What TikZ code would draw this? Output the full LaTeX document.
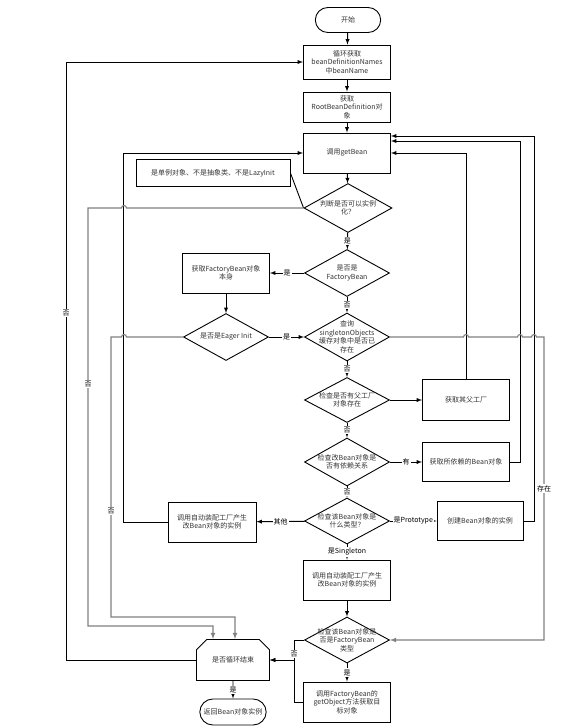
\documentclass[tikz,border=0pt]{standalone}
\usepackage{fontspec}
\setmainfont{Noto Sans CJK SC}
\usepackage{tikz}
\usetikzlibrary{arrows,shapes.geometric,shapes.misc}

\begin{document}
\begin{tikzpicture}[x=1pt, y=-1pt, line width=.9pt, >=latex]
\useasboundingbox (0,0) rectangle (579,728);
\tikzstyle{every node} = [font=\fontsize{7}{8.5}\selectfont, text=black!80, align=center]
\tikzstyle{box} = [draw, rectangle, minimum width=87, minimum height=40, inner sep=1pt]
\tikzstyle{dia} = [draw, diamond, aspect=1.8, minimum width=85, minimum height=47, inner xsep=-12pt, inner ysep=-4pt]
\tikzstyle{term} = [draw, rounded rectangle, minimum width=72, minimum height=25]
\tikzstyle{lab} = [fill=white, inner sep=1pt, text=black]
\tikzstyle{gl} = [black!50, line width=1.1pt]
% main column
\node[term] (st) at (348,20) {开始};
\node[box, minimum height=34] (b1) at (347,62) {循环获取\\beanDefinitionNames\\中beanName};
\node[box, minimum height=30] (b2) at (347,107) {获取\\RootBeanDefinition对\\象};
\node[box] (gb) at (347,153) {调用getBean};
\node[box, minimum width=154, minimum height=27] (nt) at (213,173) {是单例对象、不是抽象类、不是LazyInit};
\node[dia, minimum width=88, minimum height=49] (d1) at (348,208) {判断是否可以实例\\化？};
\node[dia] (d2) at (347,273) {是否是\\FactoryBean};
\node[box] (fb) at (226,273) {获取FactoryBean对象\\本身};
\node[dia] (d3) at (226,337) {是否是Eager Init};
\node[dia, minimum height=48] (d4) at (347,337) {查询\\singletonObjects\\缓存对象中是否已\\存在};
\node[dia, minimum height=45] (d5) at (347,400) {检查是否有父工厂\\对象存在};
\node[box, minimum height=41] (pf) at (466,400) {获取其父工厂};
\node[dia, minimum height=48] (d6) at (347,462) {检查改Bean对象是\\否有依赖关系};
\node[box, minimum height=39] (dep) at (466,462) {获取所依赖的Bean对象};
\node[dia, minimum height=46] (d7) at (347,521) {检查该Bean对象是\\什么类型？};
\node[box, minimum width=88] (aw1) at (212,522) {调用自动装配工厂产生\\改Bean对象的实例};
\node[box, minimum width=86, minimum height=39] (pr) at (480,521) {创建Bean对象的实例};
\node[box] (aw2) at (347,580) {调用自动装配工厂产生\\改Bean对象的实例};
\node[dia, minimum height=46] (d8) at (347,640) {检查该Bean对象是\\否是FactoryBean\\类型};
\node[box] (go) at (347,702) {调用FactoryBean的\\getObject方法获取目\\标对象};
\node[draw, chamfered rectangle, chamfered rectangle corners={north west,north east},
  chamfered rectangle xsep=7pt, minimum width=73, minimum height=41] (lp) at (233,660) {是否循环结束};
\node[term, minimum width=73, minimum height=26] (en) at (233,712) {返回Bean对象实例};
\coordinate (j) at (294,660);
% connectors
\draw[->] (st) -- (b1);
\draw[->] (b1) -- (b2);
\draw[->] (b2) -- (gb);
\draw[->] (gb) -- (d1);
\draw (nt.east) -- (d1.west);
\draw[->] (d1) -- node[lab]{是} (d2);
\draw[->] (d2) -- node[lab]{是} (fb);
\draw[->] (fb) -- (d3);
\draw[->] (d3) -- node[lab]{是} (d4);
\draw[->] (d2) -- node[lab]{否} (d4);
\draw[->] (d4) -- node[lab]{否} (d5);
\draw[->] (d5) -- (pf);
\draw[->] (pf.north) |- (gb.east);
\draw[->] (d5) -- node[lab]{否} (d6);
\draw[->] (d6) -- node[lab]{有} (dep);
\draw[->] (dep.east) -- ++(10.5,0) |- ([yshift=12pt]gb.east);
\draw[->] (d6) -- node[lab]{否} (d7);
\draw[->] (d7) -- node[lab]{其他} (aw1);
\draw[->] (aw1.west) -- ++(-44,0) |- (gb.west);
\draw[->] (d7) -- node[lab]{是Prototype} (pr);
\draw[->] (pr.east) -- ++(11,0) |- ([yshift=17pt]gb.east);
\draw[->] (d7) -- node[lab]{是Singleton} (aw2);
\draw[->] (aw2) -- (d8);
\draw[->] (d8) -- node[lab]{是} (go);
\draw[->] (d8.west) -| node[lab, pos=.85]{否} (j) -- (lp.east);
\draw[->] (go.west) -| (j) -- (lp.east);
\draw[->] (lp) -- node[lab]{是} (en);
\draw[->] (lp.west) -- ++(-130,0) |- node[lab, pos=.29]{否} (b1.west);
% gray loops back
\draw[gl, ->] (d4.east) -- (463.5,337) arc(180:360:2.5) -- (517.5,337) arc(180:360:2.5)
  -- (531.5,337) arc(180:360:2.5) -- (544,337) |- node[lab, pos=.25]{存在} (d8.east);
\draw[gl, ->] (d1.west) -- (126.5,208) arc(0:-180:2.5) -- (88,208)
  |- node[lab, pos=.21]{否} (213,626) -- (213,626 |- lp.north);
\draw[gl, ->] (d3.west) -- (126.5,337) arc(0:-180:2.5) -- (111,337)
  |- node[lab, pos=.31]{否} (235,617) -- (235,617 |- lp.north);
\end{tikzpicture}
\end{document}
